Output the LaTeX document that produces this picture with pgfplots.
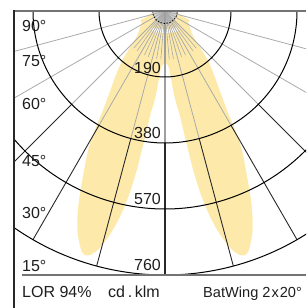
\documentclass[border=0pt]{standalone}
\usepackage{pgfplots}
\pgfplotsset{compat=1.18}
\usepackage{fontspec}
\setmainfont{Liberation Sans}
\definecolor{lobe}{RGB}{253,234,170}
\definecolor{lgray}{RGB}{170,170,170}
\definecolor{dgray}{RGB}{40,40,40}
\definecolor{fgray}{RGB}{115,115,115}
\definecolor{txt}{RGB}{30,30,30}
\begin{document}
\begin{tikzpicture}
\useasboundingbox (0,0) rectangle (306pt,308pt);
\clip (0,0) rectangle (306pt,308pt);
\begin{axis}[at={(14pt,33pt)}, anchor=south west, width=292pt, height=264pt,
  scale only axis, xmin=-434.70, xmax=405.91, ymin=-760, ymax=0,
  hide axis, clip=true]
% C0-C180 batwing (cd/klm)
\addplot[draw=none, fill=lobe, smooth, tension=0.4, data cs=polar] coordinates {
(-180,17) (-170,40) (-160,63) (-150,81) (-145,89) (-140,101) (-137,115) (-134,144)
(-131,187) (-128,225) (-126,253) (-124,288) (-122,337) (-121,377) (-120,420) (-119,455)
(-118,484) (-117,512) (-116,544) (-115,579) (-114,613) (-113,645) (-112,674) (-111,697)
(-110,717) (-109,734) (-108,740) (-107,734) (-106,720) (-105,697) (-104,668) (-103,633)
(-102,590) (-101,535) (-100,461) (-99,368) (-98,299) (-97,271) (-96,236) (-95,190)
(-94,164) (-92,153) (-90,150) (-88,153) (-86,164) (-85,190) (-84,236) (-83,271)
(-82,299) (-81,368) (-80,461) (-79,535) (-78,590) (-77,633) (-76,668) (-75,697)
(-74,720) (-73,734) (-72,740) (-71,734) (-70,717) (-69,697) (-68,674) (-67,645)
(-66,613) (-65,579) (-64,544) (-63,512) (-62,484) (-61,455) (-60,420) (-59,377)
(-58,337) (-56,288) (-54,253) (-52,225) (-49,187) (-46,144) (-43,115) (-40,101)
(-35,89) (-30,81) (-20,63) (-10,40) (0,17)};
% C90-C270
\addplot[draw=none, fill=lobe, smooth, tension=0.4, data cs=polar] coordinates {
(-180,30) (-166,34) (-162,45) (-160,74) (-157,76) (-150,72) (-140,68) (-125,64)
(-110,60) (-90,58) (-70,60) (-55,64) (-40,68) (-30,72) (-23,76) (-20,74) (-18,45)
(-14,34) (0,30)};
\addplot[white, line width=3.5pt, smooth, data cs=polar] coordinates {
(-125,64) (-110,60) (-90,58) (-70,60) (-55,64)};
% centre
\addplot[draw=none, fill=gray!35, smooth, data cs=polar] coordinates {
(-180,36) (-165,36) (-150,36) (-135,36) (-120,36) (-105,36) (-90,36) (-75,36)
(-60,36) (-45,36) (-30,36) (-15,36) (0,36)};
% fine rays
\addplot[lgray, line width=0.6pt, data cs=polar] coordinates {(-95,0) (-95,140)};
\addplot[lgray, line width=0.6pt, data cs=polar] coordinates {(-100,0) (-100,140)};
\addplot[lgray, line width=0.6pt, data cs=polar] coordinates {(-110,0) (-110,140)};
\addplot[lgray, line width=0.6pt, data cs=polar] coordinates {(-115,0) (-115,140)};
\addplot[lgray, line width=0.6pt, data cs=polar] coordinates {(-125,0) (-125,140)};
\addplot[lgray, line width=0.6pt, data cs=polar] coordinates {(-130,0) (-130,140)};
\addplot[lgray, line width=0.6pt, data cs=polar] coordinates {(-85,0) (-85,140)};
\addplot[lgray, line width=0.6pt, data cs=polar] coordinates {(-80,0) (-80,140)};
\addplot[lgray, line width=0.6pt, data cs=polar] coordinates {(-70,0) (-70,140)};
\addplot[lgray, line width=0.6pt, data cs=polar] coordinates {(-65,0) (-65,140)};
\addplot[lgray, line width=0.6pt, data cs=polar] coordinates {(-55,0) (-55,140)};
\addplot[lgray, line width=0.6pt, data cs=polar] coordinates {(-50,0) (-50,140)};
% main rays
\addplot[lgray, line width=0.8pt, data cs=polar] coordinates {(-105,0) (-105,380)};
\addplot[lgray, line width=0.8pt, data cs=polar] coordinates {(-120,0) (-120,380)};
\addplot[lgray, line width=0.8pt, data cs=polar] coordinates {(-135,0) (-135,380)};
\addplot[lgray, line width=0.8pt, data cs=polar] coordinates {(-75,0) (-75,380)};
\addplot[lgray, line width=0.8pt, data cs=polar] coordinates {(-60,0) (-60,380)};
\addplot[lgray, line width=0.8pt, data cs=polar] coordinates {(-45,0) (-45,380)};
\addplot[lgray, line width=0.8pt, data cs=polar] coordinates {(-150,0) (-150,760)};
\addplot[lgray, line width=0.8pt, data cs=polar] coordinates {(-165,0) (-165,760)};
\addplot[lgray, line width=0.8pt, data cs=polar] coordinates {(-30,0) (-30,760)};
\addplot[lgray, line width=0.8pt, data cs=polar] coordinates {(-15,0) (-15,760)};
\addplot[dgray, line width=0.9pt, data cs=polar] coordinates {(-105,380) (-105,760)};
\addplot[dgray, line width=0.9pt, data cs=polar] coordinates {(-120,380) (-120,760)};
\addplot[dgray, line width=0.9pt, data cs=polar] coordinates {(-135,380) (-135,760)};
\addplot[dgray, line width=0.9pt, data cs=polar] coordinates {(-75,380) (-75,760)};
\addplot[dgray, line width=0.9pt, data cs=polar] coordinates {(-60,380) (-60,760)};
\addplot[dgray, line width=0.9pt, data cs=polar] coordinates {(-45,380) (-45,760)};
% centre axis
\addplot[gray!75, line width=1.7pt, data cs=polar] coordinates {(-90,0) (-90,380)};
\addplot[dgray, line width=1.2pt, data cs=polar] coordinates {(-90,380) (-90,760)};
% circles
\draw[black, line width=1pt] (axis cs:0,0) circle[radius=66pt];
\draw[black, line width=1pt] (axis cs:0,0) circle[radius=132pt];
\draw[black, line width=1pt] (axis cs:0,0) circle[radius=198pt];
\draw[black, line width=1pt] (axis cs:0,0) circle[radius=264pt];
\draw[black, line width=0.8pt, dash pattern=on 1.6pt off 1.4pt] (axis cs:0,0) circle[radius=12.5pt];
\end{axis}
% frame
\draw[fgray, line width=1.6pt] (14pt,297pt) -- (306pt,297pt);
\draw[dgray, line width=1.1pt] (14pt,297.8pt) -- (14pt,0pt);
\draw[fgray, line width=1.5pt] (22pt,33pt) -- (306pt,33pt);
% text
\begin{scope}[every node/.style={inner sep=0pt, text=txt, font=\fontsize{16pt}{18pt}\selectfont}]
\node[anchor=base west] at (22pt,276pt) {90°};
\node[anchor=base west] at (22pt,241pt) {75°};
\node[anchor=base west] at (22pt,198pt) {60°};
\node[anchor=base west] at (22pt,141pt) {45°};
\node[anchor=base west] at (22pt,89pt) {30°};
\node[anchor=base west] at (22pt,36pt) {15°};
\node[anchor=base east] at (161pt,234pt) {190};
\node[anchor=base east] at (161pt,169pt) {380};
\node[anchor=base east] at (161pt,103pt) {570};
\node[anchor=base east] at (161pt,37pt) {760};
\node[anchor=base west] at (22pt,10pt) {LOR 94\%};
\node[anchor=base west] at (108pt,10pt) {cd\,.\,klm};
\node[anchor=base west, font=\fontsize{14.6pt}{17pt}\selectfont] at (203pt,10pt) {BatWing 2\kern1pt x\kern1pt 20°};
\end{scope}
\end{tikzpicture}
\end{document}
